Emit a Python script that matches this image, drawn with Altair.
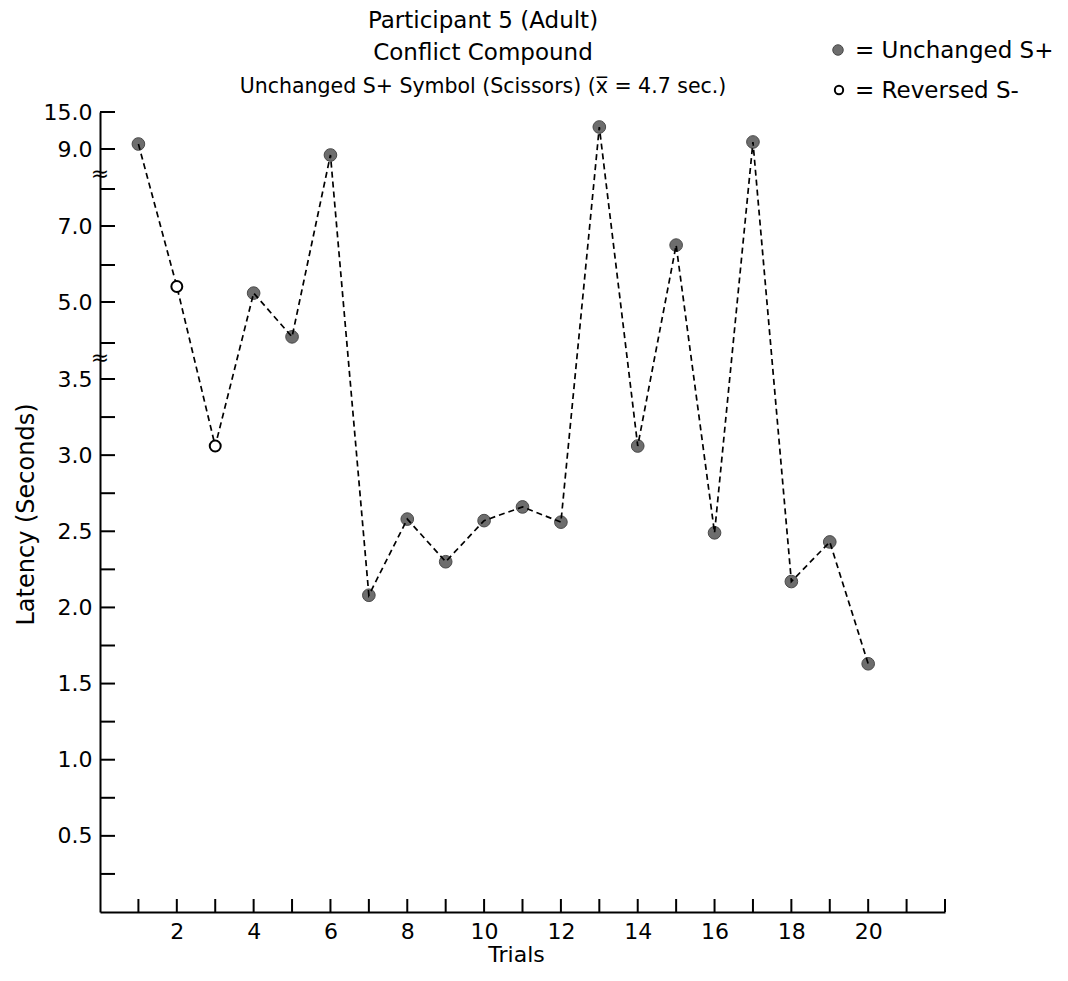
import altair as alt
import pandas as pd

# ---- data ----
trials = list(range(1, 21))
latency = [9.81, 5.42, 3.06, 5.24, 4.15, 8.85, 2.08, 2.58, 2.30, 2.57,
           2.66, 2.56, 12.57, 3.06, 6.51, 2.49, 10.14, 2.17, 2.43, 1.63]
symbol = ["Unchanged S+", "Reversed S-", "Reversed S-"] + ["Unchanged S+"] * 17

y_label_values = [0.5, 1.0, 1.5, 2.0, 2.5, 3.0, 3.5, 5.0, 7.0, 9.0, 15.0]
y_tick_values = [0.25, 0.5, 0.75, 1.0, 1.25, 1.5, 1.75, 2.0, 2.25, 2.5, 2.75,
                 3.0, 3.25, 3.5, 4.0, 5.0, 6.0, 7.0, 8.0, 9.0, 15.0]
x_label_values = [2, 4, 6, 8, 10, 12, 14, 16, 18, 20]
x_tick_values = list(range(1, 23))
break_values = [3.79, 8.37]

title_lines = ["Participant 5 (Adult)", "Conflict Compound"]
subtitle_text = "Unchanged S+ Symbol (Scissors) (x\u0305 = 4.7 sec.)"
legend_labels = ["= Unchanged S+", "= Reversed S-"]

FONT = "DejaVu Sans"
W, H = 845, 800

df = pd.DataFrame({"trial": trials, "latency": latency, "symbol": symbol})
yt = pd.DataFrame({"latency": y_tick_values})
xt = pd.DataFrame({"trial": x_tick_values})
br = pd.DataFrame({"latency": break_values})

# broken (piecewise) latency axis
yscale = alt.Scale(type="linear",
                   domain=[0, 3.5, 4, 5, 6, 7, 8, 9, 15],
                   range=[800, 267, 231, 190, 153, 114, 77, 37, 0],
                   nice=False, zero=False)
xscale = alt.Scale(domain=[0, 22], nice=False, zero=False)

yaxis = alt.Axis(values=y_label_values, format=".1f", ticks=False, tickSize=0,
                 grid=False, domainWidth=2, domainColor="black",
                 labelFont=FONT, labelFontSize=22, labelColor="black",
                 labelPadding=8, labelOverlap=False, labelFlush=False,
                 title="Latency (Seconds)", titleFont=FONT, titleFontSize=24,
                 titleFontWeight="normal", titleColor="black",
                 titleX=-74, titleY=402, titleAngle=270, titleAlign="center",
                 titleBaseline="middle")
xaxis = alt.Axis(values=x_label_values, format="d", ticks=False, tickSize=0,
                 grid=False, domainWidth=2, domainColor="black",
                 labelFont=FONT, labelFontSize=22, labelColor="black",
                 labelPadding=9, labelOverlap=False, labelFlush=False,
                 title="Trials", titleFont=FONT, titleFontSize=22,
                 titleFontWeight="normal", titleColor="black",
                 titleX=416, titleY=49, titleAlign="center",
                 titleBaseline="alphabetic")

X = alt.X("trial:Q", scale=xscale, axis=xaxis)
Y = alt.Y("latency:Q", scale=yscale, axis=yaxis)

ytick_layer = alt.Chart(yt).mark_rule(color="black", strokeWidth=2).encode(
    y=Y, x=alt.value(0), x2=alt.value(15))
xtick_layer = alt.Chart(xt).mark_rule(color="black", strokeWidth=2).encode(
    x=X, y=alt.value(H), y2=alt.value(H - 13))

break_layer = alt.Chart(br).mark_text(
    text="\u2248", font=FONT, fontSize=22, color="black",
    align="center", baseline="middle").encode(y=Y, x=alt.value(0))

filled = alt.Chart(df).transform_filter(
    alt.datum.symbol == "Unchanged S+").mark_point(
    shape="circle", filled=True, size=160, fill="#6d6d6d",
    stroke="#4a4a4a", strokeWidth=1, opacity=1).encode(x=X, y=Y)

line = alt.Chart(df).mark_line(color="black", strokeWidth=1.7,
                               strokeDash=[6, 4]).encode(x=X, y=Y)

opened = alt.Chart(df).transform_filter(
    alt.datum.symbol == "Reversed S-").mark_point(
    shape="circle", filled=True, size=120, fill="white",
    stroke="black", strokeWidth=2, opacity=1).encode(x=X, y=Y)

def text_layer(txt, x, y, size, align="center"):
    return alt.Chart(pd.DataFrame({"t": [txt]})).mark_text(
        font=FONT, fontSize=size, color="black", align=align,
        baseline="alphabetic").encode(text="t:N", x=alt.value(x), y=alt.value(y))

t1 = text_layer(title_lines[0], 383, -84, 23)
t2 = text_layer(title_lines[1], 383, -52, 23)
t3 = text_layer(subtitle_text, 383, -19, 20.5)

leg_fill = alt.Chart(pd.DataFrame({"t": [legend_labels[0]]})).mark_point(
    shape="circle", filled=True, size=110, fill="#6d6d6d", stroke="#4a4a4a",
    strokeWidth=1, opacity=1).encode(x=alt.value(738), y=alt.value(-62))
leg_open = alt.Chart(pd.DataFrame({"t": [legend_labels[1]]})).mark_point(
    shape="circle", filled=True, size=70, fill="white", stroke="black",
    strokeWidth=2, opacity=1).encode(x=alt.value(739), y=alt.value(-22))
l1 = text_layer(legend_labels[0], 755, -54, 23, align="left")
l2 = text_layer(legend_labels[1], 755, -14, 23, align="left")

chart = alt.layer(
    ytick_layer, xtick_layer, filled, line, opened, break_layer,
    t1, t2, t3, leg_fill, leg_open, l1, l2
).properties(
    width=W, height=H,
    autosize=alt.AutoSizeParams(type="none"),
    padding={"left": 92, "top": 104, "right": 111, "bottom": 56},
).configure_view(stroke=None)

chart.save("out.html", embed_options={"renderer": "svg", "actions": False})
